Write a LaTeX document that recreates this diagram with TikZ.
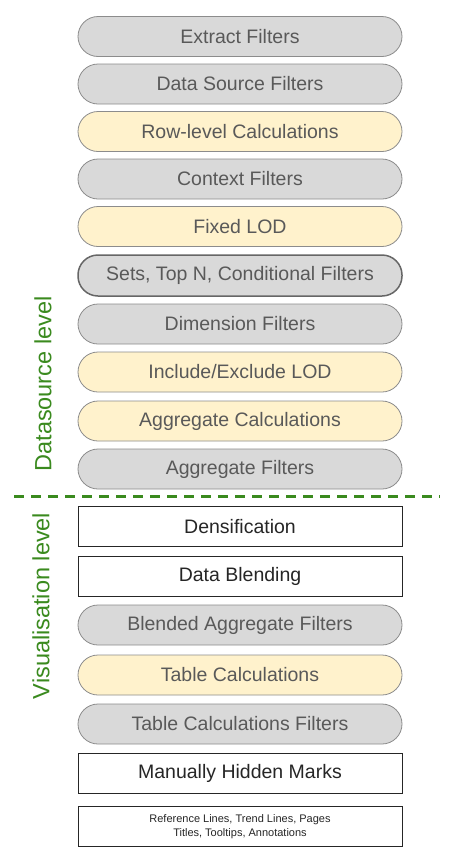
\documentclass[tikz,border=0pt]{standalone}
\usepackage{fontspec}
\setmainfont{Liberation Sans}
\definecolor{gfill}{HTML}{D9D9D9}
\definecolor{yfill}{HTML}{FFF2CC}
\definecolor{bord}{HTML}{8C8C8C}
\definecolor{gtext}{HTML}{595959}
\definecolor{lvl}{HTML}{3A8A1E}
\begin{document}
\begin{tikzpicture}[x=1pt,y=-1pt,
  base/.style={minimum width=324pt,minimum height=40pt,inner sep=0pt,line width=0.8pt,font=\fontsize{19.5}{23}\selectfont},
  gbox/.style={base,rounded corners=20pt,draw=bord,fill=gfill,text=gtext},
  ybox/.style={base,rounded corners=20pt,draw=bord,fill=yfill,text=gtext},
  sbox/.style={base,rounded corners=20pt,draw=black!60,line width=1.5pt,fill=gfill,text=gtext,minimum height=41pt},
  wbox/.style={base,draw=black!85,fill=white,text=black!85},
  lvltext/.style={text=lvl,font=\fontsize{23.5}{26}\selectfont,rotate=90}
]
\useasboundingbox (0,0) rectangle (450,865);
\fill[white] (0,0) rectangle (450,865);
\node[gbox] (n1) at (240,36.5) {Extract Filters};
\node[gbox] (n2) at (240,84) {Data Source Filters};
\node[ybox] (n3) at (240,131.5) {Row-level Calculations};
\node[gbox] (n4) at (240,179) {Context Filters};
\node[ybox] (n5) at (240,226.5) {Fixed LOD};
\node[sbox] (n6) at (240,275.5) {Sets, Top N, Conditional Filters};
\node[gbox] (n7) at (240,324) {Dimension Filters};
\node[ybox] (n8) at (240,372) {Include/Exclude LOD};
\node[ybox] (n9) at (240,421) {Aggregate Calculations};
\node[gbox] (n10) at (240,469) {Aggregate Filters};
\node[wbox] (n11) at (240,526.5) {Densification};
\node[wbox] (n12) at (240,576) {Data Blending};
\node[gbox] (n13) at (240,625) {Blended Aggregate Filters};
\node[ybox] (n14) at (240,675) {Table Calculations};
\node[gbox] (n15) at (240,724) {Table Calculations Filters};
\node[wbox] (n16) at (240,773) {Manually Hidden Marks};
\node[wbox,font=\fontsize{11}{14.5}\selectfont,align=center] (n17) at (240,826.5) {Reference Lines, Trend Lines, Pages\\Titles, Tooltips, Annotations};
\coordinate (dl) at (14,496.5);
\coordinate (dr) at (440,496.5);
\draw[lvl,line width=2.4pt,dash pattern=on 10pt off 7pt] (dl) -- (dr);
\node[lvltext] (lab1) at (43,384) {Datasource level};
\node[lvltext] (lab2) at (41,606) {Visualisation level};
\end{tikzpicture}
\end{document}
